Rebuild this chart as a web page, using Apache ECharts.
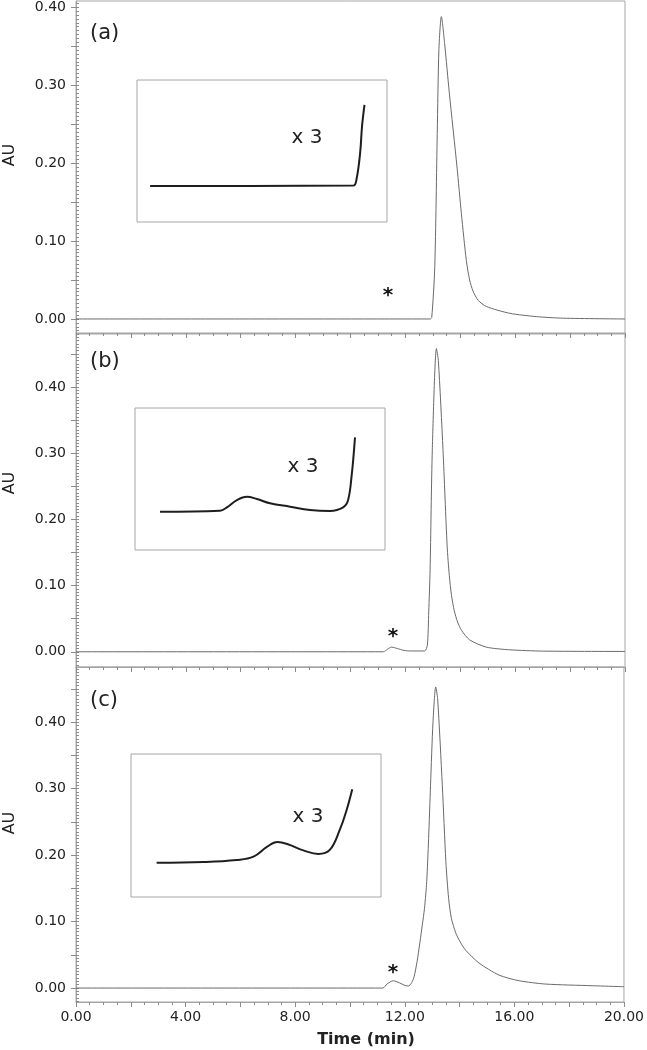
<!DOCTYPE html>
<html>
<head>
<meta charset="utf-8">
<script src="https://cdn.jsdelivr.net/npm/echarts@6/dist/echarts.min.js"></script>
<style>
  html, body { margin: 0; padding: 0; background: #fff; }
  #chart { width: 647px; height: 1050px; }
</style>
</head>
<body>
<div id="chart"></div>
<script>
// chromatograms, time (min) vs absorbance (AU)
const timeA = [0, 12.9, 12.96, 13.07, 13.16, 13.22, 13.31, 13.43, 13.6, 13.88, 14.04, 14.22, 14.34, 14.46, 14.65, 14.95, 15.8, 16.78, 17.75, 20];
const auA = [0, 0, 0.002, 0.067, 0.238, 0.345, 0.388, 0.353, 0.29, 0.195, 0.135, 0.075, 0.05, 0.036, 0.024, 0.016, 0.0073, 0.003, 0.001, 0];

const timeB = [0, 11.2, 11.35, 11.5, 11.7, 11.95, 12.2, 12.7, 12.8, 12.85, 12.9, 12.98, 13.13, 13.2, 13.37, 13.52, 13.6, 13.68, 13.78, 13.9, 14.05, 14.34, 14.95, 15.8, 17, 20];
const auB = [0, 0, 0.004, 0.007, 0.005, 0.002, 0.0012, 0.0012, 0.01, 0.06, 0.124, 0.305, 0.458, 0.44, 0.305, 0.16, 0.115, 0.085, 0.062, 0.045, 0.032, 0.018, 0.007, 0.003, 0.001, 0.0005];

const timeC = [0, 11.2, 11.35, 11.58, 11.8, 12.0, 12.13, 12.25, 12.34, 12.45, 12.55, 12.64, 12.72, 12.8, 12.87, 12.94, 13.03, 13.13, 13.2, 13.37, 13.5, 13.6, 13.7, 13.86, 14.0, 14.22, 14.71, 15.44, 16.17, 17.14, 18.84, 20];
const auC = [0, 0, 0.006, 0.011, 0.008, 0.004, 0.003, 0.008, 0.017, 0.04, 0.068, 0.095, 0.12, 0.16, 0.225, 0.305, 0.4, 0.453, 0.435, 0.305, 0.19, 0.135, 0.105, 0.083, 0.071, 0.057, 0.0376, 0.0195, 0.011, 0.006, 0.0035, 0.002];

// insets (x 3), time (min) vs signal in inset units (0-100)
const insetTimeA = [9.21, 10.8, 12.46, 12.51, 12.57, 12.60, 12.64];
const insetSigA = [25.4, 25.4, 25.7, 29.6, 48.6, 67.1, 82.4];

const insetTimeB = [9.40, 10.36, 10.47, 10.63, 10.79, 10.95, 11.16, 11.48, 11.80, 12.12, 12.33, 12.41, 12.47, 12.50, 12.52];
const insetSigB = [27.0, 27.7, 30.0, 35.2, 37.5, 35.9, 32.9, 30.5, 28.2, 27.5, 30.0, 35.2, 54.0, 68.1, 79.3];

const insetTimeC = [9.41, 10.16, 10.69, 10.96, 11.18, 11.34, 11.50, 11.77, 12.00, 12.18, 12.34, 12.45, 12.54];
const insetSigC = [24.0, 24.5, 25.9, 28.2, 35.2, 38.5, 37.1, 32.4, 30.1, 32.9, 46.9, 60.8, 75.3];

// axis labels
const yTickLabels = [0, 0.1, 0.2, 0.3, 0.4];
const xTickLabels = [0, 4, 8, 12, 16, 20];
const panelNames = ['(a)', '(b)', '(c)'];

const FONT = 'DejaVu Sans';
const FRAME = '#a6a6a6';
const TICK = '#8c8c8c';
const TEXT = '#222';

const zip = (xs, ys) => xs.map((x, i) => [x, ys[i]]);

const panels = [
  { data: zip(timeA, auA), inset: zip(insetTimeA, insetSigA), top: 1, height: 332, min: -0.018, max: 0.408,
    box: { left: 137, top: 80, width: 250, height: 142 }, nameY: 34, auY: 155, x3: [307, 138], star: [388, 296] },
  { data: zip(timeB, auB), inset: zip(insetTimeB, insetSigB), top: 334, height: 333, min: -0.023, max: 0.48,
    box: { left: 135, top: 408, width: 250, height: 142 }, nameY: 362, auY: 483, x3: [303, 467], star: [393, 637] },
  { data: zip(timeC, auC), inset: zip(insetTimeC, insetSigC), top: 667, height: 335, min: -0.021, max: 0.483,
    box: { left: 131, top: 754, width: 250, height: 143 }, nameY: 701, auY: 823, x3: [308, 817], star: [393, 973] }
];

function stepValues(min, max, step) {
  const out = [];
  for (let v = Math.ceil(min / step) * step; v <= max + 1e-9; v += step) {
    out.push(Math.round(v * 1000) / 1000);
  }
  return out;
}

const grid = [], xAxis = [], yAxis = [], series = [], graphic = [];

panels.forEach((p, i) => {
  grid.push({ left: 76, right: 22, top: p.top, height: p.height, show: true, borderColor: FRAME, borderWidth: 1 });
  xAxis.push({
    type: 'value', gridIndex: i, min: 0, max: 20, interval: 2,
    axisLine: { show: true, onZero: false, lineStyle: { color: FRAME } },
    axisTick: { show: true, length: 5, lineStyle: { color: TICK } },
    minorTick: { show: true, splitNumber: 4, length: 3, lineStyle: { color: TICK } },
    splitLine: { show: false },
    axisLabel: {
      show: i === 2, customValues: xTickLabels, margin: 8,
      fontFamily: FONT, fontSize: 14, color: TEXT,
      formatter: v => v.toFixed(2)
    }
  });
});

panels.forEach((p, i) => {
  // labelled axis with major ticks
  yAxis.push({
    type: 'value', gridIndex: i, min: p.min, max: p.max,
    axisLine: { show: true, onZero: false, lineStyle: { color: FRAME } },
    axisTick: { show: true, length: 5, customValues: stepValues(0, p.max, 0.05), lineStyle: { color: TICK } },
    axisLabel: {
      customValues: yTickLabels, margin: 10,
      fontFamily: FONT, fontSize: 14, color: TEXT,
      formatter: v => v.toFixed(2)
    },
    splitLine: { show: false }
  });
});

panels.forEach((p, i) => {
  // fine ticks on the same axis line
  yAxis.push({
    type: 'value', gridIndex: i, min: p.min, max: p.max,
    axisLine: { show: false },
    axisTick: { show: true, length: 3, customValues: stepValues(p.min, p.max, 0.005), lineStyle: { color: TICK } },
    axisLabel: { show: false },
    splitLine: { show: false }
  });
});

panels.forEach((p, i) => {
  series.push({
    type: 'line', xAxisIndex: i, yAxisIndex: i, data: p.data,
    showSymbol: false, smooth: 0.25, animation: false,
    lineStyle: { color: '#6a6a6a', width: 1 }
  });
});

panels.forEach((p, i) => {
  const g = 3 + i;
  grid.push(Object.assign({ show: true, borderColor: FRAME, borderWidth: 1 }, p.box));
  xAxis.push({ type: 'value', gridIndex: g, min: 9, max: 13, show: false });
  yAxis.push({ type: 'value', gridIndex: g, min: 0, max: 100, show: false });
  series.push({
    type: 'line', xAxisIndex: g, yAxisIndex: 6 + i, data: p.inset,
    showSymbol: false, smooth: 0.4, animation: false,
    lineStyle: { color: '#1e1e1e', width: 2 }
  });

  graphic.push(
    { type: 'text', x: 90, y: p.nameY, style: { text: panelNames[i], font: '21px ' + FONT, fill: TEXT, align: 'left', verticalAlign: 'middle' } },
    { type: 'text', x: 10, y: p.auY, rotation: Math.PI / 2, style: { text: 'AU', font: '16px ' + FONT, fill: TEXT, align: 'center', verticalAlign: 'middle' } },
    { type: 'text', x: p.x3[0], y: p.x3[1], style: { text: 'x 3', font: '20px ' + FONT, fill: TEXT, align: 'center', verticalAlign: 'middle' } },
    { type: 'text', x: p.star[0], y: p.star[1], style: { text: '*', font: 'bold 20px ' + FONT, fill: '#111', align: 'center', verticalAlign: 'middle' } }
  );
});

graphic.push({
  type: 'text', x: 366, y: 1040,
  style: { text: 'Time (min)', font: 'bold 16px ' + FONT, fill: TEXT, align: 'center', verticalAlign: 'middle' }
});

const chart = echarts.init(document.getElementById('chart'));
chart.setOption({
  animation: false,
  backgroundColor: '#fff',
  grid, xAxis, yAxis, series, graphic
});
</script>
</body>
</html>
